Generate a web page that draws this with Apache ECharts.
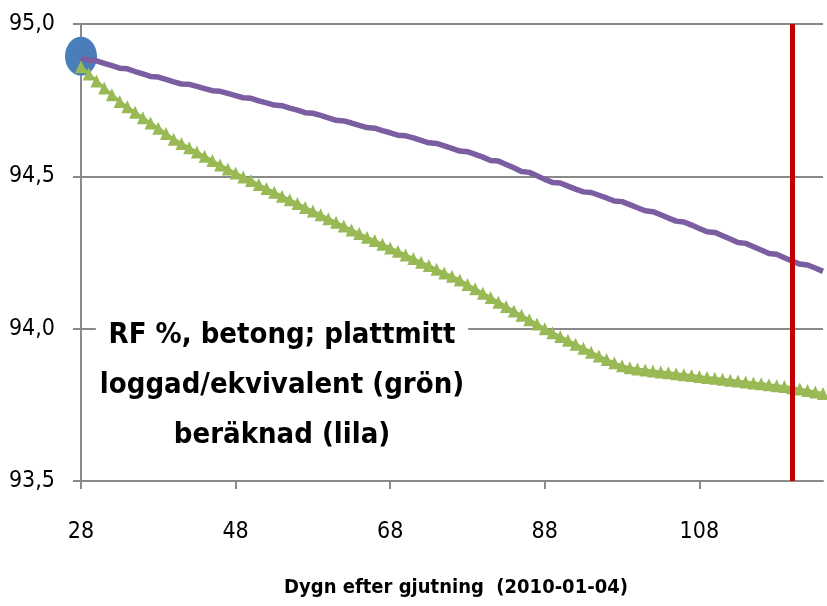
<!DOCTYPE html>
<html lang="sv">
<head>
    <meta charset="UTF-8">
    <script src="https://cdn.jsdelivr.net/npm/echarts@6/dist/echarts.min.js"></script>
    <style>
        body {
            margin: 0;
            background-color: #fff;
        }
        #chart {
            width: 827px;
            height: 606px;
        }
    </style>
</head>
<body>
    <div id="chart"></div>

    <script>
        // days after casting (category axis, one per day)
        const days = [];
        for (let d = 28; d <= 124; d++) days.push(String(d));

        // logged / equivalent RF (green triangles)
        const greenRF = [
            94.860, 94.836, 94.813, 94.790, 94.768, 94.746, 94.728, 94.710, 94.692, 94.675,
            94.658, 94.641, 94.622, 94.608, 94.594, 94.580, 94.566, 94.552, 94.537, 94.524,
            94.511, 94.498, 94.486, 94.473, 94.460, 94.448, 94.435, 94.423, 94.411, 94.398,
            94.386, 94.374, 94.361, 94.349, 94.337, 94.324, 94.312, 94.300, 94.289, 94.277,
            94.265, 94.254, 94.242, 94.230, 94.218, 94.207, 94.195, 94.183, 94.172, 94.160,
            94.145, 94.131, 94.116, 94.102, 94.087, 94.073, 94.058, 94.044, 94.029, 94.015,
            94.000, 93.987, 93.974, 93.962, 93.949, 93.936, 93.923, 93.910, 93.899, 93.888,
            93.878, 93.872, 93.868, 93.864, 93.861, 93.858, 93.855, 93.852, 93.849, 93.846,
            93.843, 93.840, 93.837, 93.834, 93.831, 93.828, 93.825, 93.822, 93.819, 93.816,
            93.813, 93.810, 93.806, 93.802, 93.797, 93.792, 93.787
        ];

        // calculated RF (purple line)
        const purpleRF = [
            94.889, 94.881, 94.879, 94.871, 94.863, 94.855, 94.853, 94.844, 94.836, 94.828,
            94.826, 94.818, 94.810, 94.803, 94.802, 94.795, 94.788, 94.781, 94.779, 94.772,
            94.765, 94.758, 94.756, 94.748, 94.741, 94.734, 94.732, 94.724, 94.717, 94.709,
            94.707, 94.700, 94.692, 94.684, 94.682, 94.675, 94.667, 94.660, 94.658, 94.650,
            94.643, 94.635, 94.633, 94.626, 94.618, 94.610, 94.608, 94.600, 94.592, 94.583,
            94.581, 94.572, 94.563, 94.552, 94.550, 94.539, 94.528, 94.516, 94.513, 94.502,
            94.490, 94.480, 94.478, 94.468, 94.458, 94.449, 94.447, 94.438, 94.429, 94.419,
            94.417, 94.407, 94.397, 94.387, 94.384, 94.374, 94.363, 94.353, 94.350, 94.340,
            94.329, 94.318, 94.316, 94.305, 94.294, 94.283, 94.280, 94.269, 94.258, 94.247,
            94.244, 94.233, 94.222, 94.212, 94.209, 94.199, 94.188
        ];

        // start marker (blue ellipse) and the red vertical day marker
        const startPoint = ['28', 94.894];
        const markerDay = '120';

        const yMin = 93.5;
        const yMax = 95.0;
        const yStep = 0.5;

        const noteLines = ['RF %, betong; plattmitt', 'loggad/ekvivalent (grön)', 'beräknad (lila)'];
        const xTitle = 'Dygn efter gjutning  (2010-01-04)';

        const fontFamily = '"DejaVu Sans Condensed", "Open Sans", sans-serif';
        const axisGray = '#8a8a8a';

        const chart = echarts.init(document.getElementById('chart'));

        chart.setOption({
            animation: false,
            grid: {
                left: 81,
                right: 4,
                top: 24,
                bottom: 125
            },
            xAxis: {
                type: 'category',
                data: days,
                boundaryGap: false,
                axisLine: { lineStyle: { color: axisGray, width: 2 } },
                axisTick: { show: true, interval: 19, length: 8, lineStyle: { color: axisGray, width: 2 } },
                axisLabel: {
                    interval: 19,
                    margin: 40,
                    fontSize: 23,
                    color: '#000',
                    fontFamily: fontFamily
                },
                splitLine: { show: false }
            },
            yAxis: {
                type: 'value',
                min: yMin,
                max: yMax,
                interval: yStep,
                axisLine: { show: true, lineStyle: { color: axisGray, width: 2 } },
                axisTick: { show: true, length: 8, lineStyle: { color: axisGray, width: 2 } },
                axisLabel: {
                    margin: 26,
                    fontSize: 23,
                    color: '#000',
                    fontFamily: fontFamily,
                    formatter: function (v) {
                        return v.toFixed(1).replace('.', ',');
                    }
                },
                splitLine: { show: true, lineStyle: { color: axisGray, width: 2 } }
            },
            series: [
                {
                    type: 'scatter',
                    data: [startPoint],
                    symbol: 'circle',
                    symbolSize: [32, 39],
                    itemStyle: { color: '#4A7EBB', opacity: 1 },
                    silent: true,
                    z: 1
                },
                {
                    type: 'line',
                    data: greenRF,
                    symbol: 'triangle',
                    symbolSize: [12, 13],
                    showSymbol: true,
                    showAllSymbol: true,
                    lineStyle: { color: '#98B954', width: 3 },
                    itemStyle: { color: '#98B954', borderWidth: 0 },
                    silent: true,
                    z: 2
                },
                {
                    type: 'line',
                    data: purpleRF,
                    showSymbol: false,
                    lineStyle: { color: '#7B5EA1', width: 5.5 },
                    itemStyle: { color: '#7B5EA1' },
                    silent: true,
                    z: 3,
                    markLine: {
                        silent: true,
                        symbol: ['none', 'none'],
                        label: { show: false },
                        lineStyle: { color: '#C00000', width: 5, type: 'solid' },
                        data: [{ xAxis: markerDay }]
                    }
                }
            ],
            graphic: [
                {
                    type: 'text',
                    x: 282,
                    y: 385,
                    z: 10,
                    style: {
                        text: noteLines.join('\n'),
                        fontSize: 29,
                        fontWeight: 'bold',
                        fontFamily: fontFamily,
                        fill: '#000',
                        align: 'center',
                        verticalAlign: 'middle',
                        lineHeight: 50,
                        backgroundColor: '#fff',
                        padding: [0, 4]
                    }
                },
                {
                    type: 'text',
                    x: 456,
                    y: 588,
                    style: {
                        text: xTitle,
                        fontSize: 20,
                        fontWeight: 'bold',
                        fontFamily: fontFamily,
                        fill: '#000',
                        align: 'center',
                        verticalAlign: 'middle'
                    }
                }
            ]
        });
    </script>
</body>
</html>
